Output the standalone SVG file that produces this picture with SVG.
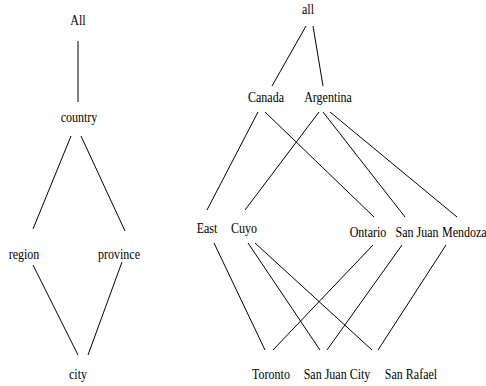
<svg xmlns="http://www.w3.org/2000/svg" width="486" height="386" viewBox="0 0 486 386">
<style>
text{font-family:"Liberation Serif","Times New Roman",serif;font-size:12px;fill:#000;text-anchor:middle}
line{stroke:#000;stroke-width:1}
</style>
<rect width="486" height="386" fill="#fff"/>
<g id="connectors">
<line x1="78" y1="41" x2="78" y2="102"/>
<line x1="71" y1="136" x2="33" y2="229"/>
<line x1="81" y1="136" x2="125" y2="231"/>
<line x1="33" y1="265" x2="78" y2="355"/>
<line x1="122" y1="262" x2="88" y2="355"/>
<line x1="306" y1="26" x2="272" y2="86"/>
<line x1="313" y1="26" x2="323" y2="86"/>
<line x1="258" y1="112" x2="207" y2="210"/>
<line x1="265" y1="112" x2="374" y2="217"/>
<line x1="319" y1="112" x2="245" y2="210"/>
<line x1="323" y1="112" x2="405" y2="217"/>
<line x1="330" y1="112" x2="457" y2="217"/>
<line x1="214" y1="243" x2="265" y2="350"/>
<line x1="248" y1="243" x2="320" y2="350"/>
<line x1="255" y1="243" x2="372" y2="350"/>
<line x1="373" y1="245" x2="273" y2="350"/>
<line x1="402" y1="245" x2="327" y2="350"/>
<line x1="446" y1="245" x2="378" y2="350"/>
</g>
<g id="All"><text transform="translate(78,25) scale(1,1.18)">All</text></g>
<g id="country"><text transform="translate(79,122) scale(1,1.18)">country</text></g>
<g id="region"><text transform="translate(24,259) scale(1,1.18)">region</text></g>
<g id="province"><text transform="translate(119,259) scale(1,1.18)">province</text></g>
<g id="city"><text transform="translate(78,379) scale(1,1.18)">city</text></g>
<g id="all"><text transform="translate(308,14) scale(1,1.18)">all</text></g>
<g id="Canada"><text transform="translate(266,102) scale(1,1.18)">Canada</text></g>
<g id="Argentina"><text transform="translate(328,102) scale(1,1.18)">Argentina</text></g>
<g id="East"><text transform="translate(207,233) scale(1,1.18)">East</text></g>
<g id="Cuyo"><text transform="translate(244,233) scale(1,1.18)">Cuyo</text></g>
<g id="Ontario"><text transform="translate(368,237) scale(1,1.18)">Ontario</text></g>
<g id="SanJuan"><text transform="translate(417,237) scale(1,1.18)">San Juan</text></g>
<g id="Mendoza"><text transform="translate(442,237) scale(1,1.18)" style="text-anchor:start">Mendoza</text></g>
<g id="Toronto"><text transform="translate(271,379) scale(1,1.18)">Toronto</text></g>
<g id="SanJuanCity"><text transform="translate(337,379) scale(1,1.18)">San Juan City</text></g>
<g id="SanRafael"><text transform="translate(411,379) scale(1,1.18)">San Rafael</text></g>
</svg>
